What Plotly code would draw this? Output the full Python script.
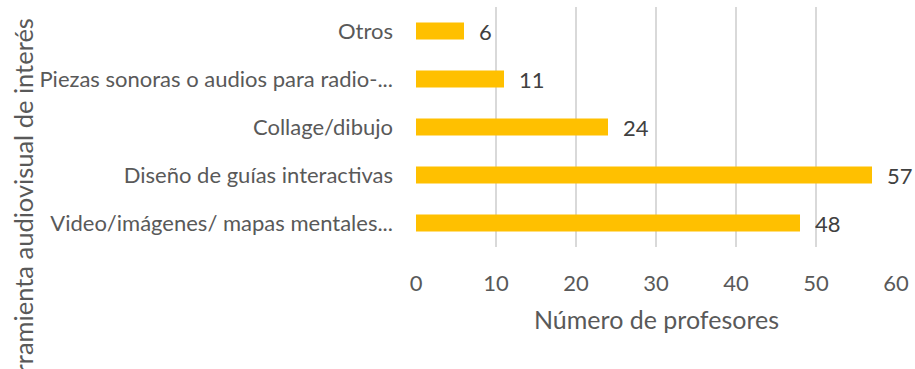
import plotly.graph_objects as go

# Survey results: preferred audiovisual tool, number of teachers
categorias = [
    "Video/imágenes/ mapas mentales...",
    "Diseño de guías interactivas",
    "Collage/dibujo",
    "Piezas sonoras o audios para radio-...",
    "Otros",
]
profesores = [48, 57, 24, 11, 6]
ticks_x = [0, 10, 20, 30, 40, 50, 60]

AMARILLO = "#FFC000"
GRIS_TEXTO = "#595959"
GRIS_REJILLA = "#D9D9D9"
FUENTE = "Lato"

W, H = 915, 369
M_L, M_R, M_T, M_B = 416, 19, 7, 122
plot_w = W - M_L - M_R
plot_h = H - M_T - M_B

fig = go.Figure(
    go.Bar(
        x=profesores,
        y=categorias,
        orientation="h",
        marker=dict(color=AMARILLO, line=dict(width=0)),
        width=0.35,
        hoverinfo="x+y",
    )
)

# value labels just past the end of each bar
for cat, val in zip(categorias, profesores):
    fig.add_annotation(
        x=val, y=cat, xref="x", yref="y",
        text=str(val), showarrow=False,
        xanchor="left", yanchor="middle", xshift=13,
        font=dict(family=FUENTE, size=22, color="#404040"),
    )

# axis titles
fig.add_annotation(
    x=0.5, y=-(319 - (M_T + plot_h)) / plot_h,
    xref="paper", yref="paper",
    text="Número de profesores", showarrow=False,
    xanchor="center", yanchor="middle",
    font=dict(family=FUENTE, size=25, color=GRIS_TEXTO),
)
fig.add_annotation(
    x=(23 - M_L) / plot_w, y=((M_T + plot_h) - 16) / plot_h,
    xref="paper", yref="paper",
    text="Herramienta audiovisual de interés", showarrow=False,
    textangle=-90, xanchor="center", yanchor="top",
    font=dict(family=FUENTE, size=25.5, color=GRIS_TEXTO),
)

fig.update_xaxes(
    range=[0, 60],
    tickvals=ticks_x,
    showgrid=True, gridcolor=GRIS_REJILLA, gridwidth=1.5,
    zeroline=False, showline=False,
    ticks="", ticklabelstandoff=21,
    tickfont=dict(family=FUENTE, size=22, color=GRIS_TEXTO),
    fixedrange=True,
)
fig.update_yaxes(
    categoryorder="array", categoryarray=categorias,
    showgrid=False, zeroline=False, showline=False,
    ticks="", ticklabelstandoff=22,
    tickfont=dict(family=FUENTE, size=22, color=GRIS_TEXTO),
    fixedrange=True,
)

fig.update_layout(
    width=W, height=H,
    margin=dict(l=M_L, r=M_R, t=M_T, b=M_B, autoexpand=False),
    paper_bgcolor="white", plot_bgcolor="white",
    showlegend=False,
    bargap=0.65,
)

fig.write_html("out.html", config={"displayModeBar": False})
